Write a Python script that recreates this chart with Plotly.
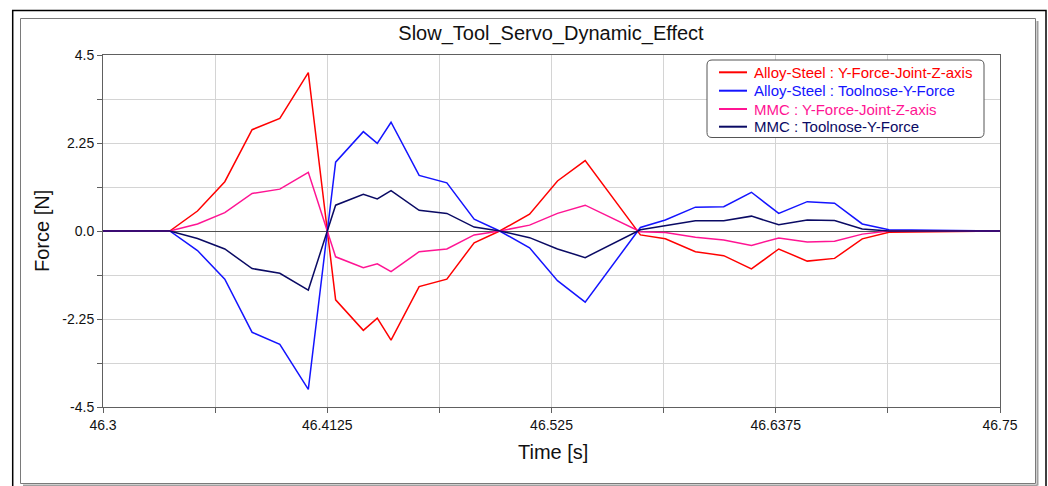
import plotly.graph_objects as go

# ---------------- data ----------------
time_s = [46.3000, 46.3197, 46.3335, 46.3474, 46.3611, 46.3748, 46.3887, 46.4030,
          46.4167, 46.4306, 46.4376, 46.4445, 46.4586, 46.4725, 46.4862, 46.4990,
          46.5140, 46.5280, 46.5419, 46.5696, 46.5821, 46.5972, 46.6114, 46.6253,
          46.6390, 46.6533, 46.6670, 46.6809, 46.6943, 46.7500]

alloy_joint_z = [0, 0, 0, 0.51, 1.26, 2.59, 2.88, 4.05,
                 -1.76, -2.54, -2.23, -2.79, -1.42, -1.23, -0.30, 0.0,
                 0.43, 1.28, 1.80, -0.10, -0.20, -0.53, -0.63, -0.97,
                 -0.46, -0.77, -0.70, -0.20, -0.03, 0]

alloy_toolnose_y = [0, 0, 0, -0.50, -1.23, -2.59, -2.90, -4.05,
                    1.76, 2.54, 2.24, 2.78, 1.42, 1.23, 0.30, 0.0,
                    -0.43, -1.27, -1.82, 0.09, 0.28, 0.61, 0.62, 0.99,
                    0.45, 0.75, 0.71, 0.18, 0.03, 0]

mmc_joint_z = [0, 0, 0, 0.18, 0.47, 0.96, 1.07, 1.50,
               -0.66, -0.94, -0.84, -1.04, -0.53, -0.46, -0.10, 0.0,
               0.15, 0.45, 0.66, -0.02, -0.04, -0.16, -0.23, -0.37,
               -0.18, -0.28, -0.26, -0.08, 0.0, 0]

mmc_toolnose_y = [0, 0, 0, -0.19, -0.46, -0.96, -1.08, -1.51,
                  0.66, 0.94, 0.82, 1.03, 0.53, 0.45, 0.10, 0.0,
                  -0.17, -0.46, -0.68, 0.03, 0.13, 0.26, 0.26, 0.38,
                  0.16, 0.28, 0.27, 0.05, 0.0, 0]

series_names = ["Alloy-Steel : Y-Force-Joint-Z-axis",
                "Alloy-Steel : Toolnose-Y-Force",
                "MMC : Y-Force-Joint-Z-axis",
                "MMC : Toolnose-Y-Force"]
series_values = [alloy_joint_z, alloy_toolnose_y, mmc_joint_z, mmc_toolnose_y]
series_colors = ["#FF0000", "#1414FF", "#FF1493", "#0A0A64"]

y_tick_vals = [-4.5, -3.375, -2.25, -1.125, 0, 1.125, 2.25, 3.375, 4.5]
y_tick_text = ["-4.5", "", "-2.25", "", "0.0", "", "2.25", "", "4.5"]
x_tick_vals = [46.3, 46.35625, 46.4125, 46.46875, 46.525, 46.58125, 46.6375, 46.69375, 46.75]
x_tick_text = ["46.3", "", "46.4125", "", "46.525", "", "46.6375", "", "46.75"]

chart_title = "Slow_Tool_Servo_Dynamic_Effect"
x_title = "Time [s]"
y_title = "Force [N]"

# ---------------- layout geometry (pixels) ----------------
W, H = 1048, 486
L, R, T, B = 103, 48, 55, 79
PW, PH = W - L - R, H - T - B
FONT = "Liberation Sans, Arial, Helvetica, sans-serif"


def px(x):
    return (x - L) / PW


def py(y):
    return (H - B - y) / PH


fig = go.Figure()
for name, vals, col in zip(series_names, series_values, series_colors):
    fig.add_trace(go.Scatter(x=time_s, y=vals, mode="lines", name=name,
                             line=dict(color=col, width=1.5), showlegend=False))

shapes = []
annotations = []

# outer black frame and inner gray panel with shadow
shapes.append(dict(type="rect", xref="paper", yref="paper",
                   x0=px(12.7), x1=px(1046), y0=py(520), y1=py(10.5),
                   line=dict(color="#000000", width=1.5), layer="below"))
shapes.append(dict(type="rect", xref="paper", yref="paper",
                   x0=px(20.5), x1=px(1035.5), y0=py(483.5), y1=py(18.5),
                   line=dict(color="#7a7a7a", width=1), layer="below"))
shapes.append(dict(type="line", xref="paper", yref="paper",
                   x0=px(1037.5), x1=px(1037.5), y0=py(21), y1=py(485.5),
                   line=dict(color="#a0a0a0", width=2), layer="below"))
shapes.append(dict(type="line", xref="paper", yref="paper",
                   x0=px(23), x1=px(1037.5), y0=py(485.5), y1=py(485.5),
                   line=dict(color="#a0a0a0", width=2), layer="below"))

# custom legend box (rounded)
bx0, bx1, by0, by1, rad = 707, 984, 60, 137.5, 5
rx, ry = rad / PW, rad / PH
X0, X1, Y0, Y1 = px(bx0), px(bx1), py(by1), py(by0)
path = (f"M {X0+rx},{Y1} L {X1-rx},{Y1} Q {X1},{Y1} {X1},{Y1-ry} "
        f"L {X1},{Y0+ry} Q {X1},{Y0} {X1-rx},{Y0} L {X0+rx},{Y0} "
        f"Q {X0},{Y0} {X0},{Y0+ry} L {X0},{Y1-ry} Q {X0},{Y1} {X0+rx},{Y1} Z")
shapes.append(dict(type="path", xref="paper", yref="paper", path=path,
                   line=dict(color="#555555", width=1), fillcolor="white", layer="above"))
legend_rows = [72.3, 90.7, 109.0, 126.7]
for name, col, yrow in zip(series_names, series_colors, legend_rows):
    shapes.append(dict(type="line", xref="paper", yref="paper",
                       x0=px(719), x1=px(747), y0=py(yrow), y1=py(yrow),
                       line=dict(color=col, width=2), layer="above"))
    annotations.append(dict(xref="paper", yref="paper", x=px(752), y=py(yrow),
                            xanchor="left", yanchor="middle", showarrow=False,
                            text=name, font=dict(family=FONT, size=15, color=col)))

# axis titles
annotations.append(dict(xref="paper", yref="paper", x=px(553), y=py(452),
                        xanchor="center", yanchor="middle", showarrow=False,
                        text=x_title, font=dict(family=FONT, size=20, color="#111111")))
annotations.append(dict(xref="paper", yref="paper", x=px(42), y=py(231),
                        xanchor="center", yanchor="middle", showarrow=False, textangle=-90,
                        text=y_title, font=dict(family=FONT, size=20, color="#111111")))

fig.update_layout(
    width=W, height=H, autosize=False,
    margin=dict(l=L, r=R, t=T, b=B, pad=0),
    paper_bgcolor="white", plot_bgcolor="white",
    title=dict(text=chart_title, x=551 / W, xref="container", xanchor="center",
               y=1 - 33 / H, yref="container", yanchor="middle",
               font=dict(family=FONT, size=20, color="#111111")),
    shapes=shapes, annotations=annotations, showlegend=False,
    xaxis=dict(range=[46.3, 46.75], tickvals=x_tick_vals, ticktext=x_tick_text,
               showgrid=True, gridcolor="#d4d4d4", gridwidth=1,
               showline=True, linecolor="#606060", linewidth=1, mirror=True,
               ticks="outside", ticklen=5, tickcolor="#606060",
               zeroline=False, tickfont=dict(family=FONT, size=14, color="#111111")),
    yaxis=dict(range=[-4.5, 4.5], tickvals=y_tick_vals, ticktext=y_tick_text,
               showgrid=True, gridcolor="#d4d4d4", gridwidth=1,
               showline=True, linecolor="#606060", linewidth=1, mirror=True,
               ticks="outside", ticklen=5, tickcolor="#606060",
               zeroline=True, zerolinecolor="#505050", zerolinewidth=1,
               tickfont=dict(family=FONT, size=14, color="#111111")),
)

fig.write_html("out.html")
